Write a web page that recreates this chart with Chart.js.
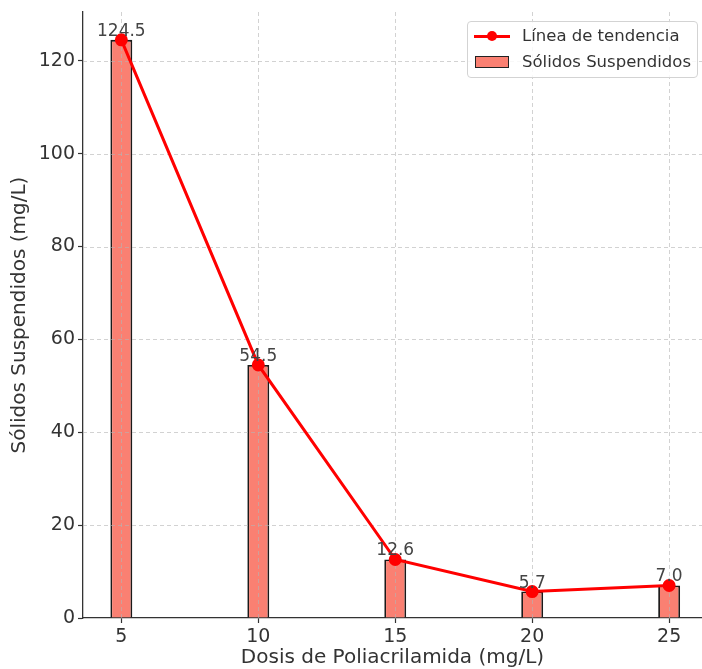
<!DOCTYPE html>
<html>
<head>
<meta charset="utf-8">
<script src="https://cdn.jsdelivr.net/npm/chart.js@4/dist/chart.umd.min.js"></script>
<style>
  body { margin: 0; background: #fff; }
  #wrap { position: relative; width: 702px; height: 669px; overflow: hidden; }
  #legend {
    position: absolute; left: 467px; top: 21px; width: 231px; height: 57px;
    box-sizing: border-box; border: 1px solid #d3d3d3; border-radius: 4px;
    background: rgba(255, 255, 255, 0.85);
    font-family: "DejaVu Sans", sans-serif; font-size: 16.5px; color: #333;
  }
  .item { position: absolute; left: 0; height: 20px; line-height: 20px; white-space: nowrap; }
  .item span { position: absolute; left: 54px; top: 0; }
  .lineIcon { position: absolute; left: 6px; top: 8.5px; width: 36px; height: 3px; background: #ff0000; }
  .lineIcon::after {
    content: ""; position: absolute; left: 13px; top: -3.5px; width: 10px; height: 10px;
    border-radius: 50%; background: #ff0000;
  }
  .boxIcon {
    position: absolute; left: 7px; top: 4px; width: 34px; height: 12px; box-sizing: border-box;
    background: #fa8072; border: 1.5px solid #222;
  }
</style>
</head>
<body>
<div id="wrap">
  <canvas id="solidsChart" width="702" height="669"></canvas>
  <div id="legend">
    <div class="item" style="top:4px"><div class="lineIcon"></div><span>Línea de tendencia</span></div>
    <div class="item" style="top:30px"><div class="boxIcon"></div><span>Sólidos Suspendidos</span></div>
  </div>
</div>
<script>
const doses = [5, 10, 15, 20, 25];
const solids = [124.5, 54.5, 12.6, 5.7, 7.0];
const xTicks = [5, 10, 15, 20, 25];
const yTicks = [0, 20, 40, 60, 80, 100, 120];

const TEXT = "#333";
const FONT = "'DejaVu Sans', sans-serif";

// dashed grid drawn above the bars but below the trend line
const gridBetween = {
  id: "gridBetween",
  afterDatasetDraw(chart, args) {
    if (args.index !== 0) return;
    const { ctx, chartArea: a, scales: { x, y } } = chart;
    ctx.save();
    ctx.strokeStyle = "rgba(180, 180, 180, 0.75)";
    ctx.lineWidth = 0.8;
    ctx.setLineDash([4, 3]);
    xTicks.forEach((v) => {
      const px = Math.round(x.getPixelForValue(v)) + 0.5;
      ctx.beginPath();
      ctx.moveTo(px, a.top);
      ctx.lineTo(px, a.bottom);
      ctx.stroke();
    });
    yTicks.forEach((v) => {
      if (v === 0) return;
      const py = Math.round(y.getPixelForValue(v)) + 0.5;
      ctx.beginPath();
      ctx.moveTo(a.left, py);
      ctx.lineTo(a.right, py);
      ctx.stroke();
    });
    ctx.restore();
  },
};

// value labels above each bar
const barLabels = {
  id: "barLabels",
  afterDatasetsDraw(chart) {
    const { ctx } = chart;
    const meta = chart.getDatasetMeta(0);
    ctx.save();
    ctx.font = "17px " + FONT;
    ctx.fillStyle = "#444";
    ctx.textAlign = "center";
    ctx.textBaseline = "alphabetic";
    meta.data.forEach((bar, i) => {
      ctx.fillText(solids[i].toFixed(1), bar.x, bar.y - 4);
    });
    ctx.restore();
  },
};

const points = doses.map((d, i) => ({ x: d, y: solids[i] }));

new Chart(document.getElementById("solidsChart").getContext("2d"), {
  type: "bar",
  data: {
    datasets: [
      {
        label: "Sólidos Suspendidos",
        data: points,
        backgroundColor: "#fa8072",
        borderColor: "#1a1a1a",
        borderWidth: 1.8,
        barPercentage: 0.16,
        categoryPercentage: 1,
        order: 1,
      },
      {
        type: "line",
        label: "Línea de tendencia",
        data: points,
        borderColor: "#ff0000",
        backgroundColor: "#ff0000",
        borderWidth: 3,
        pointRadius: 5,
        pointHoverRadius: 5,
        tension: 0,
        order: 0,
      },
    ],
  },
  options: {
    responsive: false,
    animation: false,
    layout: { autoPadding: false, padding: { top: 12, right: 0, left: 0, bottom: 0 } },
    plugins: { legend: { display: false }, tooltip: { enabled: false } },
    scales: {
      x: {
        type: "linear",
        min: 3.6,
        max: 26.2,
        offset: false,
        afterBuildTicks: (scale) => { scale.ticks = xTicks.map((v) => ({ value: v })); },
        afterFit: (scale) => {
          scale.height = 51;
          scale.paddingLeft = 0;
          scale.paddingRight = 0;
        },
        grid: { offset: false, drawOnChartArea: false, tickLength: 5, tickColor: TEXT, tickWidth: 1.2 },
        border: { color: TEXT, width: 1.3 },
        ticks: { color: TEXT, font: { family: FONT, size: 19 }, padding: 3, maxRotation: 0 },
        title: {
          display: true,
          text: "Dosis de Poliacrilamida (mg/L)",
          color: TEXT,
          font: { family: FONT, size: 20 },
          padding: { top: 0, bottom: -1 },
        },
      },
      y: {
        min: 0,
        max: 130.5,
        afterBuildTicks: (scale) => { scale.ticks = yTicks.map((v) => ({ value: v })); },
        afterFit: (scale) => {
          scale.width = 83;
          scale.paddingTop = 0;
          scale.paddingBottom = 0;
        },
        grid: { drawOnChartArea: false, tickLength: 5, tickColor: TEXT, tickWidth: 1.2 },
        border: { color: TEXT, width: 1.3 },
        ticks: { color: TEXT, font: { family: FONT, size: 19 }, padding: 3 },
        title: {
          display: true,
          text: "Sólidos Suspendidos (mg/L)",
          color: TEXT,
          font: { family: FONT, size: 20 },
          padding: { top: 8, bottom: 0 },
        },
      },
    },
  },
  plugins: [gridBetween, barLabels],
});
</script>
</body>
</html>
